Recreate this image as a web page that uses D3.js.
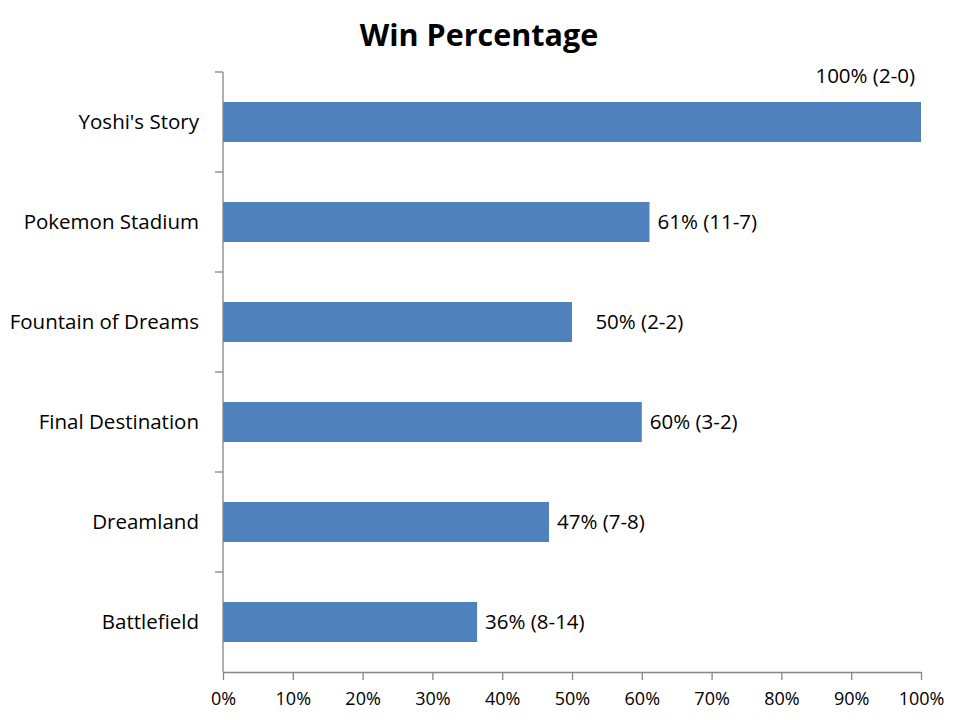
<!DOCTYPE html>
<html>
<head>
<meta charset="utf-8">
<script src="https://cdn.jsdelivr.net/npm/d3@7"></script>
<style>
  html, body { margin: 0; padding: 0; background: #fff; }
  svg { display: block; }
  text { font-family: "Open Sans", Lato, sans-serif; fill: #000; }
</style>
</head>
<body>
<svg id="chart" width="960" height="720"></svg>
<script>
const categories = ["Yoshi's Story", "Pokemon Stadium", "Fountain of Dreams", "Final Destination", "Dreamland", "Battlefield"];
const values = [1.0, 0.611, 0.50, 0.60, 0.467, 0.364];
const labels = ["100% (2-0)", "61% (11-7)", "\u2002\u200550% (2-2)", "60% (3-2)", "47% (7-8)", "36% (8-14)"];
const xTicks = [0, 0.1, 0.2, 0.3, 0.4, 0.5, 0.6, 0.7, 0.8, 0.9, 1.0];
const title = "Win Percentage";

const svg = d3.select("#chart");
const margin = { top: 72, left: 223, right: 39, bottom: 48 };
const W = 960, H = 720;
const axisColor = "#868686";
const barColor = "#4F81BD";
const labelSize = "20.5px";
const tickSize = "18px";

const x = d3.scaleLinear().domain([0, 1]).range([margin.left, W - margin.right]);
const y = d3.scaleBand().domain(categories).range([margin.top, H - margin.bottom]).paddingInner(0.6).paddingOuter(0.3);
const yOuter = d3.scaleBand().domain(categories).range([margin.top, H - margin.bottom]);

// title
svg.append("text")
  .attr("x", 479).attr("y", 46)
  .attr("text-anchor", "middle")
  .style("font-size", "30.5px").style("font-weight", "bold")
  .text(title);

// bars
svg.selectAll("rect.bar").data(categories).join("rect")
  .attr("class", "bar")
  .attr("x", x(0))
  .attr("y", d => y(d))
  .attr("width", (d, i) => x(values[i]) - x(0))
  .attr("height", y.bandwidth())
  .attr("fill", barColor);

// x axis
const xAxis = d3.axisBottom(x).tickValues(xTicks).tickFormat(d3.format(".0%")).tickSize(8).tickSizeOuter(0).tickPadding(12);
const gx = svg.append("g").attr("transform", `translate(0,${H - margin.bottom})`).call(xAxis);
gx.select(".domain").attr("stroke", axisColor).attr("stroke-width", 1.3);
gx.selectAll(".tick line").attr("stroke", axisColor).attr("stroke-width", 1.3);
gx.selectAll(".tick text").style("font-size", tickSize).style("font-family", "'Open Sans', sans-serif").attr("fill", "#000");

// y axis (ticks at band boundaries)
svg.append("line")
  .attr("x1", x(0)).attr("x2", x(0))
  .attr("y1", margin.top).attr("y2", H - margin.bottom)
  .attr("stroke", axisColor).attr("stroke-width", 1.3);
const boundaries = categories.map(c => yOuter(c));
svg.selectAll("line.ytick").data(boundaries).join("line")
  .attr("class", "ytick")
  .attr("x1", x(0) - 8).attr("x2", x(0))
  .attr("y1", d => d).attr("y2", d => d)
  .attr("stroke", axisColor).attr("stroke-width", 1.3);

svg.selectAll("text.ylab").data(categories).join("text")
  .attr("class", "ylab")
  .attr("x", x(0) - 24)
  .attr("y", d => y(d) + y.bandwidth() / 2)
  .attr("dy", "0.35em")
  .attr("text-anchor", "end")
  .style("font-size", labelSize)
  .text(d => d);

// data labels
svg.selectAll("text.dlab").data(categories).join("text")
  .attr("class", "dlab")
  .attr("xml:space", "preserve")
  .style("white-space", "pre")
  .style("font-size", labelSize)
  .attr("text-anchor", (d, i) => values[i] >= 1 ? "end" : "start")
  .attr("x", (d, i) => values[i] >= 1 ? x(values[i]) - 6 : x(values[i]) + 8)
  .attr("y", (d, i) => values[i] >= 1 ? margin.top + 4 : y(d) + y.bandwidth() / 2)
  .attr("dy", "0.35em")
  .text((d, i) => labels[i]);
</script>
</body>
</html>
